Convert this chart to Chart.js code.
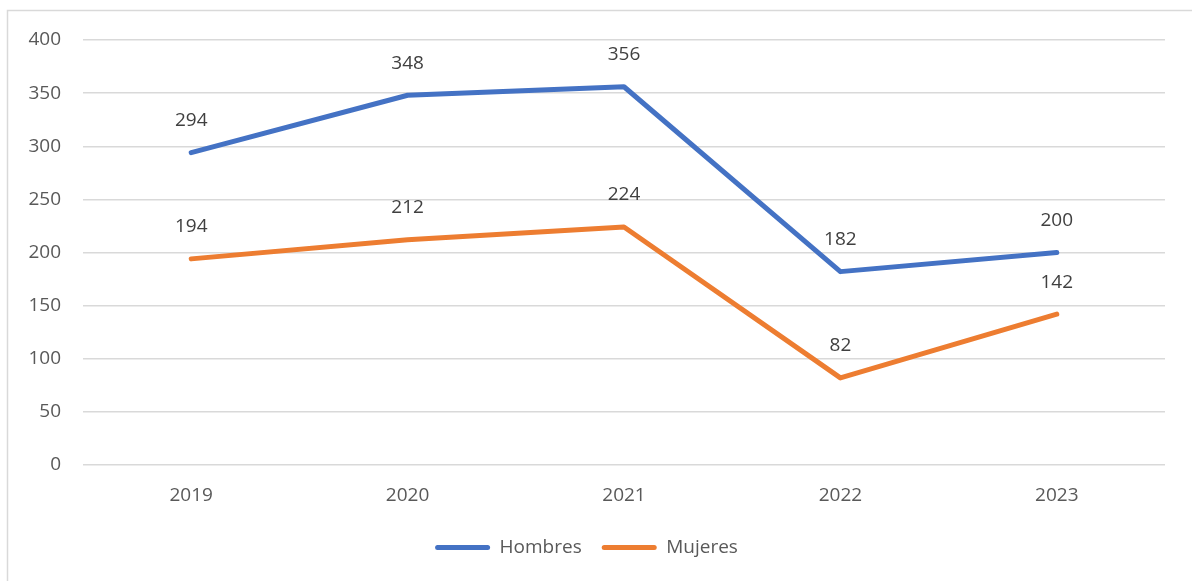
<!DOCTYPE html>
<html>
<head>
<meta charset="utf-8">
<script src="https://cdn.jsdelivr.net/npm/chart.js@4/dist/chart.umd.min.js"></script>
<style>
html,body{margin:0;padding:0;background:#fff;}
#wrap{position:relative;width:1192px;height:581px;}
</style>
</head>
<body>
<div id="wrap"><canvas id="c" width="1192" height="581"></canvas></div>
<script>
const categories = ['2019', '2020', '2021', '2022', '2023'];
const hombres = [294, 348, 356, 182, 200];
const mujeres = [194, 212, 224, 82, 142];
const yTicks = [0, 50, 100, 150, 200, 250, 300, 350, 400];

const FONT = '"Open Sans", Lato, sans-serif';

const framePlugin = {
  id: 'frame',
  beforeDraw(chart) {
    const ctx = chart.ctx;
    ctx.save();
    ctx.fillStyle = '#ffffff';
    ctx.fillRect(0, 0, chart.width, chart.height);
    ctx.strokeStyle = '#d9d9d9';
    ctx.lineWidth = 1.5;
    ctx.beginPath();
    ctx.moveTo(7.5, chart.height);
    ctx.lineTo(7.5, 10.5);
    ctx.lineTo(chart.width, 10.5);
    ctx.stroke();
    ctx.restore();
  }
};

const labelPlugin = {
  id: 'valueLabels',
  afterDatasetsDraw(chart) {
    const ctx = chart.ctx;
    ctx.save();
    ctx.font = '19px ' + FONT;
    ctx.fillStyle = '#404040';
    ctx.textAlign = 'center';
    ctx.textBaseline = 'middle';
    chart.data.datasets.forEach((ds, i) => {
      const meta = chart.getDatasetMeta(i);
      meta.data.forEach((pt, j) => {
        ctx.fillText(String(ds.data[j]), pt.x, pt.y - 32);
      });
    });
    ctx.restore();
  }
};

new Chart(document.getElementById('c'), {
  type: 'line',
  data: {
    labels: categories,
    datasets: [
      {label: 'Hombres', data: hombres, borderColor: '#4472C4', backgroundColor: '#4472C4',
       borderWidth: 5, pointRadius: 0, tension: 0, borderCapStyle: 'round', borderJoinStyle: 'round'},
      {label: 'Mujeres', data: mujeres, borderColor: '#ED7D31', backgroundColor: '#ED7D31',
       borderWidth: 5, pointRadius: 0, tension: 0, borderCapStyle: 'round', borderJoinStyle: 'round'}
    ]
  },
  options: {
    responsive: false,
    animation: false,
    devicePixelRatio: 1,
    layout: {padding: {left: 8, right: 27, top: 40, bottom: 14}},
    plugins: {
      tooltip: {enabled: false},
      legend: {
        position: 'bottom',
        labels: {
          font: {family: FONT, size: 19},
          color: '#595959',
          boxWidth: 55,
          boxHeight: 5,
          useBorderRadius: true,
          borderRadius: 2.5,
          padding: 20,
          generateLabels(chart) {
            return chart.data.datasets.map((ds, i) => ({
              text: ds.label, fillStyle: ds.borderColor, strokeStyle: ds.borderColor,
              lineWidth: 0, hidden: false, datasetIndex: i, fontColor: '#595959', borderRadius: 2.5
            }));
          }
        }
      }
    },
    scales: {
      x: {
        offset: true,
        grid: {display: false},
        border: {display: false},
        ticks: {font: {family: FONT, size: 19}, color: '#595959', padding: 11, maxRotation: 0},
        afterFit(s) { s.height = 53; }
      },
      y: {
        min: 0, max: 400,
        afterBuildTicks(s) { s.ticks = yTicks.map(v => ({value: v})); },
        grid: {color: '#d9d9d9', lineWidth: 1.5, drawTicks: false},
        border: {display: false},
        ticks: {font: {family: FONT, size: 19}, color: '#595959', padding: 22},
        afterFit(s) { s.width = 75; }
      }
    }
  },
  plugins: [framePlugin, labelPlugin]
});
</script>
</body>
</html>
